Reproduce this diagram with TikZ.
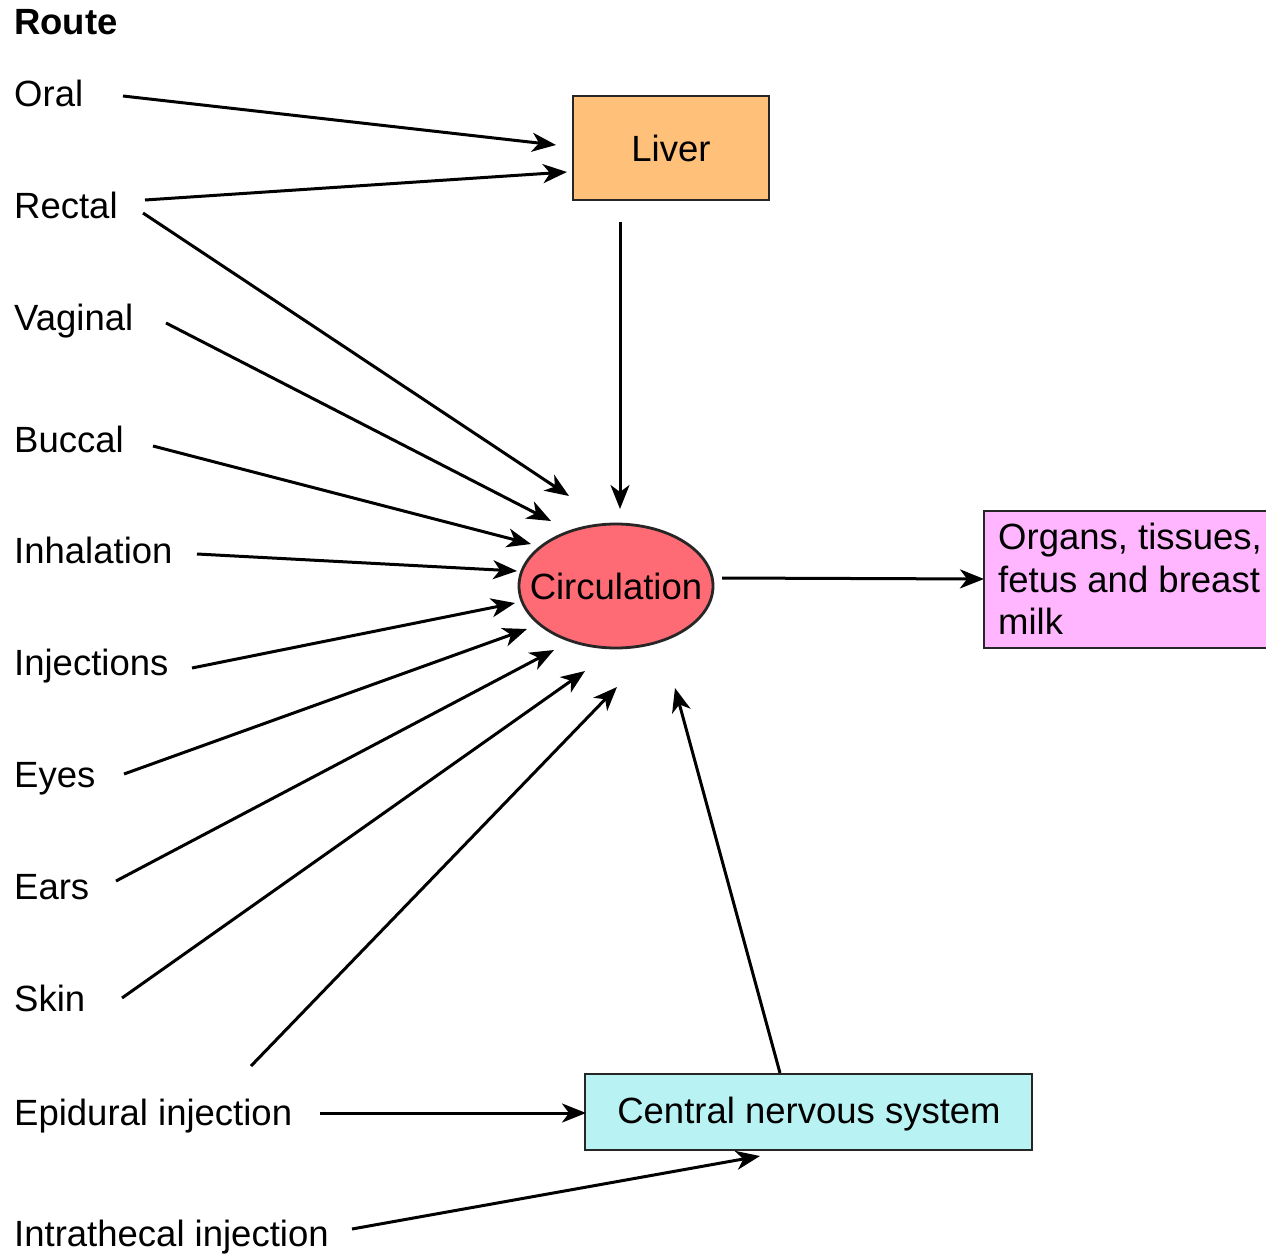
\documentclass[tikz,border=0pt]{standalone}
\usepackage{fontspec}
\setmainfont{Liberation Sans}
\usetikzlibrary{arrows.meta}
\definecolor{liverc}{HTML}{FFC07A}
\definecolor{circc}{HTML}{FF6B75}
\definecolor{organc}{HTML}{FFB6FF}
\definecolor{cnsc}{HTML}{B8F2F2}
\tikzset{
  lbl/.style={anchor=base west, inner sep=0pt, font=\fontsize{36.5}{42}\selectfont},
  boxtxt/.style={inner sep=0pt, font=\fontsize{36.5}{42}\selectfont},
  arr/.style={line width=3pt, -{Stealth[length=24pt,width=19pt,inset=7pt]}},
  frame/.style={draw=black!85, line width=2.8pt}
}
\begin{document}
\begin{tikzpicture}[x=1pt,y=-1pt]
\useasboundingbox (0,0) rectangle (1266,1253);
% boxes
\draw[frame, fill=liverc] (573,96) rectangle (769,200);
\node[boxtxt] (liver) at (671,148) {Liver};
\draw[frame, fill=circc] (616,586) ellipse [x radius=97, y radius=62];
\node[boxtxt] (circ) at (616,586) {Circulation};
\draw[frame, fill=organc] (984,511) rectangle (1272,648);
\node[lbl] (org1) at (998,549) {Organs, tissues,};
\node[lbl] (org2) at (998,592) {fetus and breast};
\node[lbl] (org3) at (998,634) {milk};
\draw[frame, fill=cnsc] (585,1074) rectangle (1032,1150);
\node[boxtxt] (cns) at (809,1114) {Central nervous system};
% labels
\node[lbl, font=\fontsize{36.5}{42}\selectfont\bfseries] (route) at (14,34) {Route};
\node[lbl] (oral) at (14,106) {Oral};
\node[lbl] (rectal) at (14,218) {Rectal};
\node[lbl] (vaginal) at (14,330) {Vaginal};
\node[lbl] (buccal) at (14,452) {Buccal};
\node[lbl] (inhal) at (14,563) {Inhalation};
\node[lbl] (inj) at (14,675) {Injections};
\node[lbl] (eyes) at (14,787) {Eyes};
\node[lbl] (ears) at (14,899) {Ears};
\node[lbl] (skin) at (14,1011) {Skin};
\node[lbl] (epi) at (14,1125) {Epidural injection};
\node[lbl] (intra) at (14,1246) {Intrathecal injection};
% connector end points
\coordinate (oralS) at (123,96);   \coordinate (oralE) at (556,145);
\coordinate (rectS1) at (145,200); \coordinate (rectE1) at (567,172);
\coordinate (rectS2) at (143,213); \coordinate (rectE2) at (569,496);
\coordinate (vagS) at (166,323);   \coordinate (vagE) at (551,521);
\coordinate (bucS) at (153,446);   \coordinate (bucE) at (531,544);
\coordinate (inhS) at (197,554);   \coordinate (inhE) at (517,571);
\coordinate (injS) at (192,668);   \coordinate (injE) at (515,603);
\coordinate (eyeS) at (124,774);   \coordinate (eyeE) at (527,629);
\coordinate (earS) at (116,881);   \coordinate (earE) at (554,650);
\coordinate (skinS) at (122,998);  \coordinate (skinE) at (585,671);
\coordinate (epiS1) at (251,1066); \coordinate (epiE1) at (617,687);
\coordinate (livS) at (620,222);   \coordinate (livE) at (620,509);
\coordinate (cnsS) at (780,1073);  \coordinate (cnsE) at (675,688);
\coordinate (circS) at (722,578);  \coordinate (circE) at (984,579);
\coordinate (epiS2) at (320,1113); \coordinate (epiE2) at (586,1113);
\coordinate (intS) at (352,1229);  \coordinate (intE) at (760,1156);
% connectors
\draw[arr] (oralS) -- (oralE);
\draw[arr] (rectS1) -- (rectE1);
\draw[arr] (rectS2) -- (rectE2);
\draw[arr] (vagS) -- (vagE);
\draw[arr] (bucS) -- (bucE);
\draw[arr] (inhS) -- (inhE);
\draw[arr] (injS) -- (injE);
\draw[arr] (eyeS) -- (eyeE);
\draw[arr] (earS) -- (earE);
\draw[arr] (skinS) -- (skinE);
\draw[arr] (epiS1) -- (epiE1);
\draw[arr] (livS) -- (livE);
\draw[arr] (cnsS) -- (cnsE);
\draw[arr] (circS) -- (circE);
\draw[arr] (epiS2) -- (epiE2);
\draw[arr] (intS) -- (intE);
\end{tikzpicture}
\end{document}
